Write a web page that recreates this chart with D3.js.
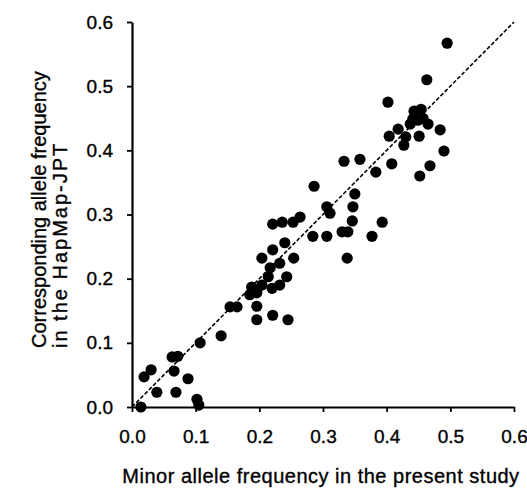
<!DOCTYPE html>
<html>
<head>
<meta charset="utf-8">
<script src="https://cdn.jsdelivr.net/npm/d3@7"></script>
<style>
  body { margin: 0; background: #fff; }
  text { font-family: "Liberation Sans", Arial, sans-serif; fill: #000; stroke: #000; stroke-width: 0.35px; }
</style>
</head>
<body>
<script>

// minor allele freq in this study vs HapMap-JPT freq
var studyFreq = [0.014, 0.019, 0.030, 0.039, 0.063, 0.072, 0.066, 0.069, 0.088, 0.102,
  0.105, 0.107, 0.140, 0.154, 0.165, 0.185, 0.188, 0.196, 0.204, 0.196,
  0.196, 0.221, 0.245, 0.214, 0.220, 0.232, 0.243, 0.217, 0.232, 0.204,
  0.221, 0.240, 0.254, 0.221, 0.236, 0.253, 0.264, 0.286, 0.284, 0.306,
  0.306, 0.311, 0.330, 0.339, 0.338, 0.346, 0.347, 0.350, 0.333, 0.358,
  0.377, 0.393, 0.383, 0.408, 0.404, 0.418, 0.427, 0.402, 0.451, 0.484,
  0.490, 0.468, 0.452, 0.463, 0.495, 0.443, 0.454, 0.441, 0.457, 0.465,
  0.437, 0.449, 0.430];
var hapmapFreq = [0.000, 0.047, 0.058, 0.023, 0.078, 0.079, 0.056, 0.023, 0.044, 0.012,
  0.003, 0.100, 0.111, 0.156, 0.156, 0.175, 0.187, 0.178, 0.190, 0.157,
  0.136, 0.143, 0.136, 0.203, 0.185, 0.190, 0.203, 0.217, 0.224, 0.232,
  0.245, 0.256, 0.232, 0.285, 0.288, 0.288, 0.296, 0.344, 0.266, 0.266,
  0.312, 0.302, 0.273, 0.273, 0.232, 0.290, 0.312, 0.332, 0.383, 0.386,
  0.266, 0.288, 0.366, 0.379, 0.422, 0.433, 0.408, 0.475, 0.422, 0.432,
  0.399, 0.376, 0.360, 0.510, 0.567, 0.461, 0.464, 0.449, 0.450, 0.441,
  0.441, 0.447, 0.421];
var tickVals = [0, 0.1, 0.2, 0.3, 0.4, 0.5, 0.6];
var identityLine = [0, 0.6];

var width = 527, height = 488;

var svg = d3.select("body").append("svg")
    .attr("width", width)
    .attr("height", height);

var x = d3.scaleLinear().domain([0, 0.6]).range([132, 514]);
var y = d3.scaleLinear().domain([0, 0.6]).range([407, 22]);

var xAxis = svg.append("g")
    .attr("transform", "translate(0,407)")
    .call(d3.axisBottom(x).tickValues(tickVals).tickFormat(d3.format(".1f"))
      .tickSizeInner(5).tickSizeOuter(0).tickPadding(18));

var yAxis = svg.append("g")
    .attr("transform", "translate(132,0)")
    .call(d3.axisLeft(y).tickValues(tickVals).tickFormat(d3.format(".1f"))
      .tickSizeInner(5).tickSizeOuter(0).tickPadding(14));

svg.selectAll(".domain").attr("stroke", "#000").attr("stroke-width", 2.2);
svg.selectAll(".tick line").attr("stroke", "#000").attr("stroke-width", 1.8);
svg.selectAll(".tick text")
    .attr("fill", "#000")
    .style("font-size", "19px")
    .style("font-family", "'Liberation Sans', Arial, sans-serif");

// y = x reference
svg.append("line")
    .attr("x1", x(identityLine[0])).attr("y1", y(identityLine[0]))
    .attr("x2", x(identityLine[1])).attr("y2", y(identityLine[1]))
    .attr("stroke", "#000")
    .attr("stroke-width", 1.6)
    .attr("stroke-dasharray", "4,2");

svg.selectAll("circle.dot")
    .data(studyFreq)
  .enter().append("circle")
    .attr("class", "dot")
    .attr("cx", function(d) { return x(d); })
    .attr("cy", function(d, i) { return y(hapmapFreq[i]); })
    .attr("r", 5.6)
    .attr("fill", "#000");

svg.append("text")
    .attr("x", 321)
    .attr("y", 483)
    .attr("text-anchor", "middle")
    .style("font-size", "20px")
    .style("letter-spacing", "0.5px")
    .text("Minor allele frequency in the present study");

var ytitle = svg.append("text")
    .attr("transform", "translate(46,348) rotate(-90)")
    .style("font-size", "20px");
ytitle.append("tspan").attr("x", 0).attr("y", 0).text("Corresponding allele frequency");
ytitle.append("tspan").attr("x", 0).attr("y", 21)
    .style("letter-spacing", "2px")
    .text("in the HapMap-JPT");

</script>
</body>
</html>
